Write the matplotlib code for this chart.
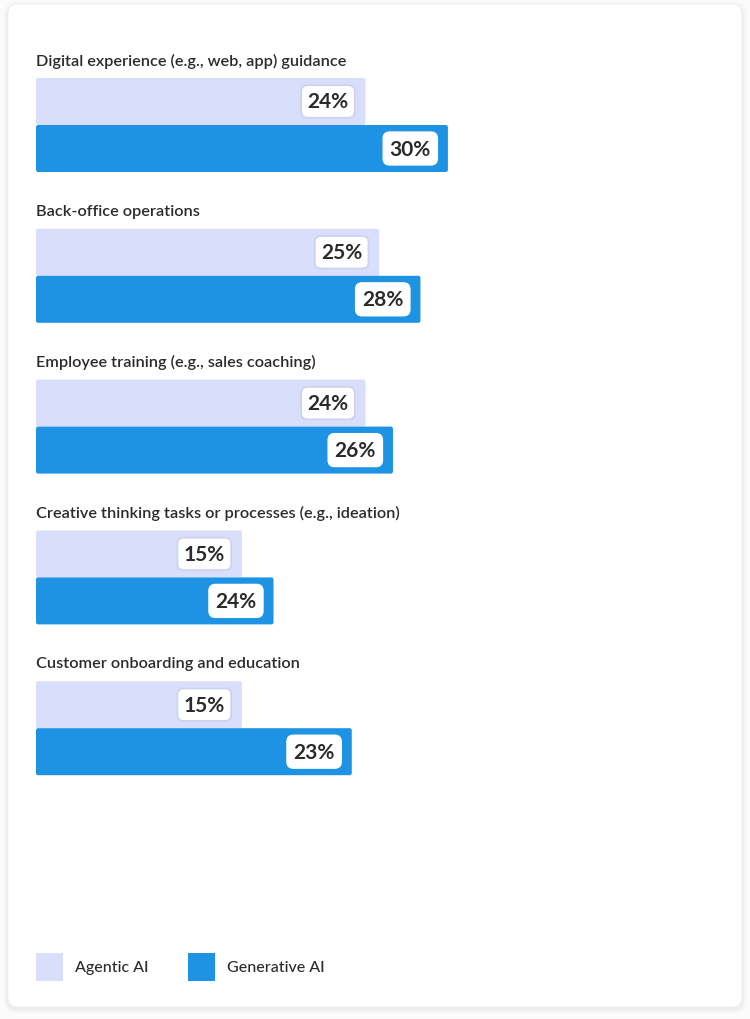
import matplotlib
matplotlib.use("Agg")
import matplotlib.pyplot as plt
from matplotlib.patches import FancyBboxPatch

# --- datos ---
categories = [
    "Digital experience (e.g., web, app) guidance",
    "Back-office operations",
    "Employee training (e.g., sales coaching)",
    "Creative thinking tasks or processes (e.g., ideation)",
    "Customer onboarding and education",
]
agentic = [24, 25, 24, 15, 15]
# longitud de barra (la 4a barra es mas corta que su etiqueta)
generative = [30, 28, 26, 17.3, 23]
agentic_labels = ["24%", "25%", "24%", "15%", "15%"]
generative_labels = ["30%", "28%", "26%", "24%", "23%"]
series_names = ["Agentic AI", "Generative AI"]

# --- estilo ---
LIGHT = "#d9dffa"
DARK = "#1e93e4"
TEXT = "#2b2b2b"
W, H = 750, 1020
plt.rcParams['font.family'] = ['Lato', 'DejaVu Sans']

fig = plt.figure(figsize=(W / 100, H / 100), dpi=100)
fig.patch.set_facecolor("#fbfbfb")

# fondo en pixeles
bg = fig.add_axes([0, 0, 1, 1])
bg.set_xlim(0, W)
bg.set_ylim(H, 0)
bg.axis("off")

# sombra suave + tarjeta
for g, a in [(5, 0.012), (3, 0.018), (1.5, 0.025)]:
    bg.add_patch(FancyBboxPatch((8 - g, 5 - g + 2), 734 + 2 * g, 1003 + 2 * g,
                                boxstyle="round,pad=0,rounding_size=%d" % (10 + g),
                                facecolor="#000000", edgecolor="none", alpha=a))
bg.add_patch(FancyBboxPatch((8, 5), 734, 1003, boxstyle="round,pad=0,rounding_size=10",
                            facecolor="white", edgecolor="#f0f0f0", lw=0.6))

# ejes de barras: x en %, y en pixeles
x0 = 36
px_per_pct = 13.73
xmax = 50
ax = fig.add_axes([x0 / W, 0, xmax * px_per_pct / W, 1])
ax.set_xlim(0, xmax)
ax.set_ylim(H, 0)
ax.axis("off")
ax.patch.set_alpha(0)

top0 = 79
step = 150.8
bar_h = 47

for i, cat in enumerate(categories):
    top = top0 + i * step
    y_a = top + bar_h / 2
    y_g = top + bar_h * 1.5
    ax.text(0, top - 18, cat, fontsize=11.7, color=TEXT, va="center", ha="left",
            fontweight="semibold")
    rows = [(y_a, agentic[i], agentic_labels[i], LIGHT, "#cdd2ee"),
            (y_g, generative[i], generative_labels[i], DARK, "white")]
    for y, v, lab, c, ec in rows:
        ax.add_patch(FancyBboxPatch((0, y - bar_h / 2), v, bar_h,
                                    boxstyle="round,pad=0,rounding_size=0.15",
                                    facecolor=c, edgecolor="none", mutation_aspect=15))
        ax.annotate(lab, xy=(v, y), xytext=(-17, 0), textcoords="offset pixels",
                    ha="right", va="center", fontsize=15, fontweight="bold", color=TEXT,
                    bbox=dict(boxstyle="round,pad=0.3,rounding_size=0.3",
                              facecolor="white", edgecolor=ec, lw=1.3))

# leyenda
legend_items = [(36, LIGHT), (188, DARK)]
for (lx, col), name in zip(legend_items, series_names):
    bg.add_patch(plt.Rectangle((lx, 954), 27, 28, facecolor=col, edgecolor="none"))
    bg.text(lx + 39, 968, name, fontsize=11.5, color=TEXT, va="center", ha="left",
            fontweight="medium")

fig.savefig("out.png", dpi=100, facecolor=fig.get_facecolor())
